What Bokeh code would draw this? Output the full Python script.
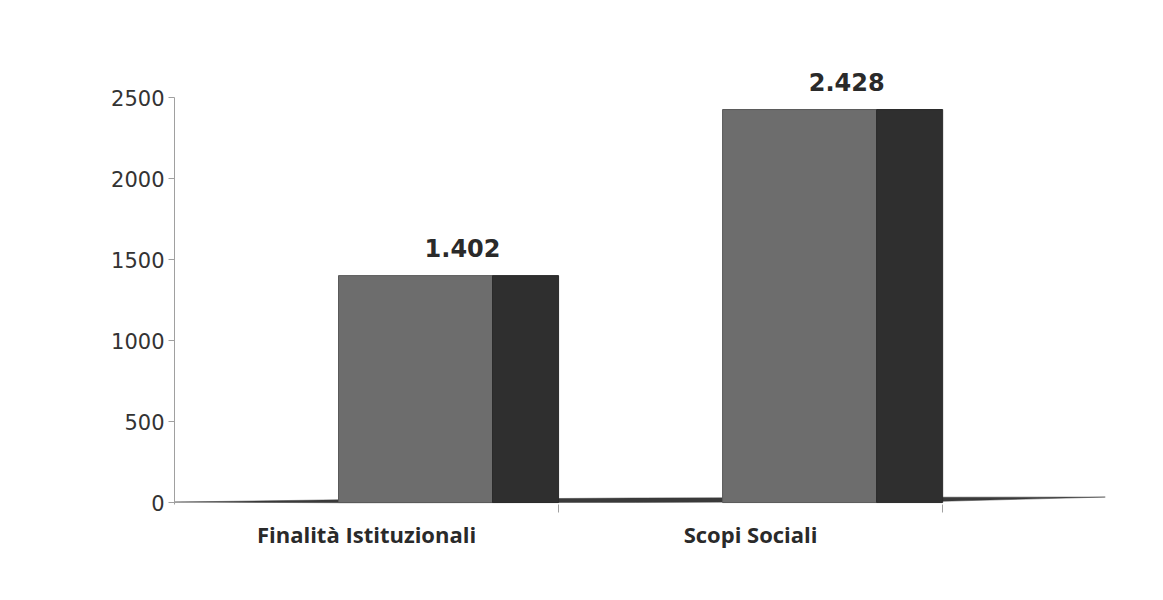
from bokeh.plotting import figure
from bokeh.models import Range1d, FixedTicker
from bokeh.embed import file_html
from bokeh.resources import INLINE
from bokeh.core.properties import value

# ---- data ----
categories = ["Finalità Istituzionali", "Scopi Sociali"]
values = [1402, 2428]
value_labels = ["1.402", "2.428"]
y_ticks = [0, 500, 1000, 1500, 2000, 2500]

# ---- styling / geometry constants ----
FRONT_START = 0.427
FRONT_W = 0.401
SIDE_W = 0.172
LABEL_X = 0.75
X_END = 2.424
Y_START, Y_END = -12, 2700

idx = list(range(len(categories)))

p = figure(width=1147, height=584, output_backend="svg", toolbar_location=None,
           x_range=Range1d(0, X_END), y_range=Range1d(Y_START, Y_END),
           min_border_left=174, min_border_right=42, min_border_top=65,
           min_border_bottom=80)
p.outline_line_color = None
p.xgrid.visible = False
p.ygrid.visible = False

# floor (thin perspective wedge)
fx = [0, 0.43, 1.2, 2.0, X_END, 2.0, 1.2, 0.43]
fy = [3, 17, 28, 33, 34, 8, 1, -1]
p.patch(fx, fy, fill_color="#3a3a3a", line_color="#3a3a3a", line_width=0.5)

# bars: front face and side face
front_l = [i + FRONT_START for i in idx]
front_r = [i + FRONT_START + FRONT_W for i in idx]
side_r = [i + FRONT_START + FRONT_W + SIDE_W for i in idx]
p.quad(left=front_l, right=front_r, bottom=0, top=values,
       fill_color="#6d6d6d", line_color="#5a5a5a", line_width=1)
p.quad(left=front_r, right=side_r, bottom=0, top=values,
       fill_color="#2f2f2f", line_color="#2a2a2a", line_width=1)

# value labels
p.text(x=[i + LABEL_X for i in idx], y=values, text=value_labels,
       text_align="center", text_baseline="alphabetic", y_offset=-28,
       text_font=value("DejaVu Sans"), text_font_style="bold",
       text_font_size="24px", text_color="#2a2a2a")

# y axis
ya = p.yaxis[0]
ya.ticker = FixedTicker(ticks=y_ticks)
ya.bounds = (Y_START, 2500)
ya.axis_line_color = "#a0a0a0"
ya.major_tick_line_color = "#a0a0a0"
ya.major_tick_out = 6
ya.major_tick_in = 0
ya.minor_tick_line_color = None
ya.major_label_standoff = 4
ya.major_label_text_font = "DejaVu Sans"
ya.major_label_text_font_size = "21px"
ya.major_label_text_color = "#333333"

# x axis: labels centred in categories, ticks at category boundaries
xa = p.xaxis[0]
centers = [i + 0.5 for i in idx]
bounds_ticks = [i + 1 for i in idx]
xa.ticker = FixedTicker(ticks=centers, minor_ticks=bounds_ticks)
xa.major_label_overrides = {c: name for c, name in zip(centers, categories)}
xa.axis_line_color = None
xa.major_tick_line_color = None
xa.minor_tick_line_color = "#a0a0a0"
xa.minor_tick_out = 8
xa.minor_tick_in = 0
xa.major_label_standoff = 6
xa.major_label_text_font = "Open Sans"
xa.major_label_text_font_style = "bold"
xa.major_label_text_font_size = "22px"
xa.major_label_text_color = "#2a2a2a"

open("out.html", "w").write(file_html(p, INLINE))
